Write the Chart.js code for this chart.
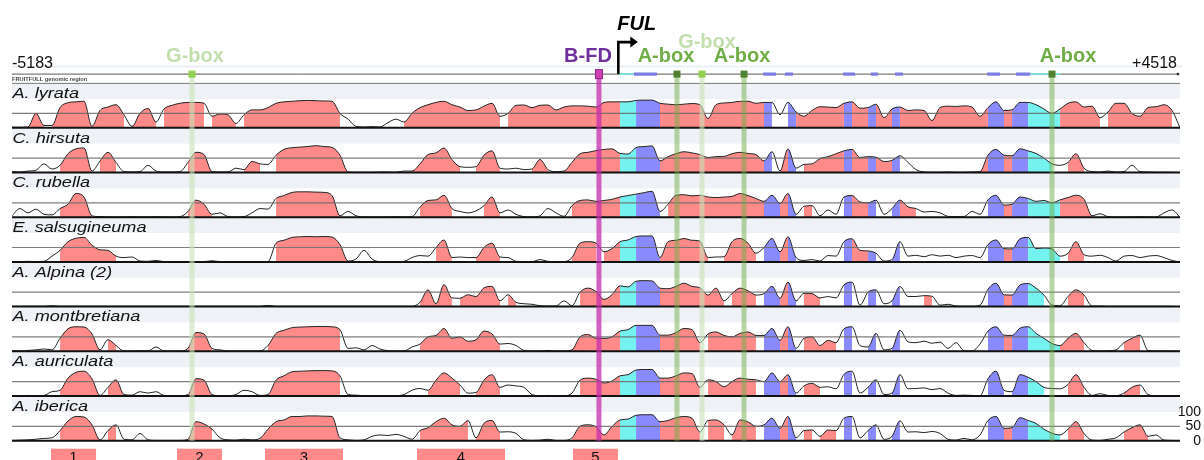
<!DOCTYPE html>
<html>
<head>
<meta charset="utf-8">
<title>FRUITFULL genomic region – conservation</title>
<script src="https://cdn.jsdelivr.net/npm/chart.js@4.4.1/dist/chart.umd.min.js"></script>
<style>
html, body { margin: 0; padding: 0; background: #ffffff; }
#wrap { width: 1204px; height: 460px; }
canvas { display: block; }
</style>
</head>
<body>
<div id="wrap"><canvas id="chart" width="1204" height="460"></canvas></div>
<script>
// ---------------- DATA ----------------
const REGION_START = -5183;
const REGION_END = 4518;
const REGION_TITLE = 'FRUITFULL genomic region';
const GENE_NAME = 'FUL';
const TSS = -147;

const SPECIES = ['A. lyrata', 'C. hirsuta', 'C. rubella', 'E. salsugineuma',
                 'A. Alpina (2)', 'A. montbretiana', 'A. auriculata', 'A. iberica'];

// % identity, sampled uniformly along the region (147 samples)
const LYRATA = [2,2,3,50,8,8,70,87,90,92, 5,60,72,80,45,5,50,67,20,65, 78,85,88,88,85,40,48,45,15,45,
  62,62,70,85,90,92,94,95,94,93, 92,50,30,5,3,4,3,18,30,20, 50,70,80,88,92,80,72,60,62,75,
  85,40,50,78,79,70,78,79,62,72, 76,76,75,72,88,90,90,90,95,96, 96,85,82,80,82,84,80,32,80,86,
  88,92,92,85,88,88,45,88,55,40, 60,73,72,70,85,90,68,70,82,35, 65,72,60,62,60,25,70,75,74,76,
  72,40,70,90,60,62,88,88,80,65, 50,65,85,90,72,75,35,55,85,85, 50,40,70,73,80,60,0];
const HIRSUTA = [3,2,5,8,30,12,25,65,82,85, 5,40,70,35,3,2,3,25,5,2, 2,3,35,70,62,3,2,2,15,10,
  38,30,28,60,80,86,88,90,93,90, 87,60,2,1,1,1,2,2,1,5, 5,30,62,68,85,45,20,18,20,60,
  75,15,12,15,10,12,45,10,3,5, 35,65,70,76,80,82,66,64,86,90, 92,40,55,65,72,68,62,52,55,56,
  65,70,66,62,40,72,5,82,15,28, 30,48,55,65,75,80,52,55,53,38, 42,58,35,10,2,1,1,2,1,1,
  2,3,60,80,60,58,82,75,66,50, 30,25,35,65,15,3,2,5,2,3, 25,3,2,1,1,1,0];
const RUBELLA = [5,30,15,28,10,8,30,45,82,70, 5,2,1,1,1,2,1,1,2,1, 1,2,20,59,45,10,15,2,1,2,
  15,30,28,65,75,86,88,88,87,86, 75,5,20,5,1,1,1,1,2,1, 2,35,58,60,76,30,20,15,22,40,
  70,15,25,10,2,1,5,30,15,3, 40,58,60,55,58,62,70,75,80,85, 90,20,45,76,78,74,76,70,68,70,
  72,82,75,65,55,76,48,82,10,38, 40,5,25,10,70,75,53,50,59,10, 30,59,36,30,18,20,15,3,2,2,
  20,10,60,76,42,45,70,65,55,58, 50,60,68,76,62,5,12,2,1,1, 1,2,1,1,15,25,0];
const SALSUGINEUM = [1,1,2,1,2,20,40,70,82,85, 58,42,40,20,15,17,3,2,5,1, 1,1,1,1,1,4,1,1,1,1,
  1,1,1,65,75,85,87,88,87,88, 86,60,3,10,40,10,1,1,1,2, 15,22,20,50,76,15,17,15,15,50,
  65,17,15,2,1,1,8,2,1,1, 15,65,70,65,35,46,70,76,88,90, 90,15,70,75,81,75,72,15,17,18,
  70,81,65,30,50,81,35,87,15,5, 8,3,22,20,70,80,40,38,30,3, 8,70,20,23,18,25,20,23,15,20,
  22,15,60,76,46,45,80,85,46,48, 45,20,30,70,25,20,23,15,3,20, 22,15,20,22,15,5,0];
const ALPINA = [1,1,1,1,1,3,1,1,1,1, 1,1,1,1,1,1,1,1,1,1, 1,1,1,1,1,1,1,1,1,1,
  1,1,4,1,1,1,1,1,1,1, 1,1,1,1,1,1,1,1,1,1, 1,15,58,10,76,30,29,41,35,65,
  70,20,41,15,10,8,3,2,2,20, 3,50,64,52,25,41,72,68,88,90, 89,64,62,70,81,70,65,40,64,20,
  45,64,55,40,45,70,29,85,20,46, 45,30,35,30,75,85,5,50,58,10, 20,70,35,35,38,36,5,8,2,1,
  1,5,60,81,41,40,75,80,64,40, 5,3,35,58,40,2,2,1,1,1, 1,1,1,1,1,1,0];
const MONTBRETIANA = [2,1,3,5,8,5,45,78,85,84, 60,5,40,20,1,1,2,1,15,1, 1,1,10,65,60,10,5,1,1,1,
  1,1,20,62,73,82,84,85,86,86, 85,75,10,12,5,20,8,2,1,1, 15,25,50,55,79,45,50,35,40,70,
  60,25,27,20,3,1,1,3,1,1, 5,50,58,45,45,50,70,75,90,90, 90,56,56,65,79,75,30,60,67,55,
  50,62,67,55,55,79,38,85,10,45, 50,20,38,30,78,85,20,15,62,5, 10,73,33,30,35,28,32,10,30,2,
  1,25,70,85,56,55,80,85,62,45, 27,20,45,62,30,3,1,2,5,30, 45,56,3,1,1,1,0];
const AURICULATA = [1,1,2,1,2,15,20,62,82,86, 60,2,30,56,5,3,15,10,15,2, 1,1,5,60,55,5,1,1,5,20,
  15,2,5,55,70,84,86,87,88,88, 87,70,5,3,1,1,1,1,1,5, 20,26,20,55,80,62,38,10,12,55,
  74,30,38,35,30,5,1,2,1,1, 10,55,62,58,45,52,70,74,90,92, 92,62,62,70,80,78,30,56,50,32,
  50,62,58,56,50,80,50,74,10,35, 44,30,32,25,75,86,10,30,56,5, 10,74,25,26,28,22,26,10,2,3,
  2,1,60,86,20,15,74,65,50,30, 26,25,40,74,30,2,8,2,1,10, 30,38,5,1,1,1,0];
const IBERICA = [1,2,3,5,8,10,35,68,84,82, 55,3,35,55,5,3,25,3,1,1, 1,1,5,66,58,40,10,3,2,5,
  3,8,40,66,72,84,84,86,86,85, 84,10,3,1,3,15,20,18,22,15, 5,35,45,66,78,55,50,70,10,60,
  70,30,31,25,3,1,2,5,1,1, 10,50,55,48,20,49,72,75,88,90, 90,66,70,80,84,78,30,70,72,55,
  20,72,65,50,55,78,43,84,10,35, 37,15,37,35,78,84,10,35,55,5, 15,69,30,31,28,32,25,5,2,8,
  3,20,70,84,43,45,80,70,60,40, 26,20,40,66,25,2,1,5,10,30, 45,55,15,20,2,1,0];

// conserved (filled) intervals per species, bp
const CNS_LYRATA = [[-5025,-4934],[-4826,-4535],[-4494,-4236],[-4186,-3979],[-3937,-3572],[-3538,-3314],[-3281,-2426],[-1919,-1122],[-1088,1154],[1237,3878],[3912,4468]];
const CNS_HIRSUTA = [[-4809,-4527],[-4477,-4294],[-3746,-3555],[-3231,-3140],[-3015,-2409],[-1852,-1487],[-1296,-1155],[-839,-715],[-582,1154],[1212,1312],[1370,2209],[2882,3438],[3579,3704]];
const CNS_RUBELLA = [[-4809,-4519],[-3730,-3538],[-3015,-2459],[-1794,-1504],[-1263,-1155],[-540,183],[266,1312],[1370,1470],[1719,2018],[2151,2325],[2915,3787]];
const CNS_SALSUGINEUM = [[-4793,-4328],[-3015,-2409],[-1678,-1537],[-1296,-1155],[-507,-324],[-274,183],[216,581],[756,996],[1055,1312],[1719,2010],[2151,2217],[2915,3513],[3596,3721]];
const CNS_ALPINA = [[-1794,-1678],[-1645,-1537],[-1470,-1329],[-1296,-1155],[-1088,-1014],[-490,739],[789,1021],[1055,1312],[1370,1528],[1719,1819],[1943,2010],[2151,2217],[2359,2467],[2915,3372],[3579,3737]];
const CNS_MONTBRETIANA = [[-4809,-4477],[-4411,-4311],[-3713,-3522],[-3032,-2426],[-1778,-1155],[-507,515],[581,1021],[1055,1312],[1370,1520],[1545,1644],[1719,1819],[1943,2010],[2151,2217],[2915,3496],[3546,3721],[4053,4202]];
const CNS_AURICULATA = [[-4776,-4460],[-4377,-4269],[-3696,-3522],[-3040,-2426],[-1711,-1454],[-1296,-1155],[-490,515],[581,1021],[1055,1312],[1370,1503],[1719,1819],[1943,2010],[2151,2217],[2915,3023],[3156,3388],[3579,3721],[4070,4202]];
const CNS_IBERICA = [[-4809,-4477],[-4411,-4311],[-3696,-3505],[-3090,-2459],[-1803,-1379],[-1296,-1155],[-507,515],[581,739],[789,1021],[1055,1312],[1370,1470],[1545,1644],[1719,1819],[1943,2010],[2151,2217],[2915,3496],[3579,3721],[4070,4227]];

// gene annotation, bp
const EXONS = [[-17,174],[1055,1163],[1237,1304],[1719,1819],[1950,2010],[2151,2217],[2915,3023],[3156,3273]];
const UTRS = [[-141,-17],[3273,3521]];

// cis-elements
const MOTIF_NAMES = ['G-box', 'B-FD', 'A-box', 'G-box', 'A-box', 'A-box'];
const MOTIF_POS = [-3688, -308, 340, 548, 897, 3455];

// numbered conserved regions below the plot
const REGION_LABELS = ['1', '2', '3', '4', '5'];
const REGION_STARTS = [-4859, -3813, -3082, -1819, -524];
const REGION_ENDS = [-4485, -3439, -2434, -1088, -150];

const Y_TICKS = [100, 50, 0];

// ---------------- BUILD ----------------
const TRACK_VALUES = [LYRATA, HIRSUTA, RUBELLA, SALSUGINEUM, ALPINA, MONTBRETIANA, AURICULATA, IBERICA];
const TRACK_CNS = [CNS_LYRATA, CNS_HIRSUTA, CNS_RUBELLA, CNS_SALSUGINEUM, CNS_ALPINA, CNS_MONTBRETIANA, CNS_AURICULATA, CNS_IBERICA];
const N = LYRATA.length;
const POSITIONS = LYRATA.map((_, i) => Math.round(REGION_START + i * (REGION_END - REGION_START) / (N - 1)));

const COLOR_CNS = '#ff8a8a';
const COLOR_UTR = '#74f2f0';
const COLOR_EXON = '#8a8aff';
const TRACK_MAX = 155;   // headroom above 100 holds the label band
const BAND_TOP = 153;

const inAny = (list, x) => list.some(([a, b]) => x >= a && x <= b);
function segmentFill(k, x) {
  if (!inAny(TRACK_CNS[k], x)) return undefined;
  if (inAny(EXONS, x)) return COLOR_EXON;
  if (inAny(UTRS, x)) return COLOR_UTR;
  return COLOR_CNS;
}

const MOTIF_STYLE = {
  'G-box': { text: '#c3dfae', line: 'rgba(200,226,184,0.62)', marker: '#92d050' },
  'A-box': { text: '#70ad47', line: 'rgba(112,173,71,0.5)', marker: '#4f8130' },
  'B-FD':  { text: '#7030a0', line: 'rgba(196,44,172,0.75)', marker: '#d040b0' }
};
const LABEL_DX = [3, -11, -11, 5, -2, 16];
const LABEL_ROW = [0, 0, 0, 1, 0, 0];

const FONT = '"Liberation Sans", Arial, Helvetica, sans-serif';

const scalesCfg = {
  x: { type: 'linear', min: REGION_START, max: REGION_END, display: false }
};
SPECIES.forEach((_, k) => {
  scalesCfg['y' + k] = {
    type: 'linear', position: 'right', stack: 'tracks', stackWeight: 1,
    min: 0, max: TRACK_MAX, display: false
  };
});

const datasets = TRACK_VALUES.map((vals, k) => ({
  label: SPECIES[k],
  data: vals.map((v, i) => ({ x: POSITIONS[i], y: v })),
  xAxisID: 'x',
  yAxisID: 'y' + k,
  borderColor: '#262626',
  borderWidth: 1,
  pointRadius: 0,
  cubicInterpolationMode: 'monotone',
  fill: 'origin',
  backgroundColor: 'rgba(0,0,0,0)',
  segment: {
    backgroundColor: c => segmentFill(k, (c.p0.parsed.x + c.p1.parsed.x) / 2)
  }
}));

function hline(ctx, x1, x2, y) { ctx.beginPath(); ctx.moveTo(x1, y); ctx.lineTo(x2, y); ctx.stroke(); }

const vistaPlugin = {
  id: 'vista',
  beforeDatasetsDraw(chart) {
    const { ctx, chartArea: ca, scales } = chart;
    ctx.save();
    SPECIES.forEach((name, k) => {
      const ys = scales['y' + k];
      const top = ys.getPixelForValue(BAND_TOP);
      const bot = ys.getPixelForValue(100);
      ctx.fillStyle = '#eef1f5';
      ctx.fillRect(ca.left, top, ca.right - ca.left, bot - top);
      ctx.save();
      ctx.translate(ca.left + 0.5, ys.getPixelForValue(104));
      ctx.scale(1.25, 1);
      ctx.fillStyle = '#111';
      ctx.font = 'italic 14.5px ' + FONT;
      ctx.textBaseline = 'alphabetic';
      ctx.textAlign = 'left';
      ctx.fillText(name, 0, 0);
      ctx.restore();
    });
    ctx.restore();
  },
  afterDatasetsDraw(chart) {
    const { ctx, chartArea: ca, scales } = chart;
    const xs = scales.x;
    const X = v => xs.getPixelForValue(v);
    const last = scales['y' + (SPECIES.length - 1)];
    ctx.save();

    // 50% and baseline lines
    SPECIES.forEach((_, k) => {
      const ys = scales['y' + k];
      ctx.strokeStyle = 'rgba(105,105,105,0.85)';
      ctx.lineWidth = 1.2;
      hline(ctx, ca.left, ca.right, ys.getPixelForValue(50));
      ctx.strokeStyle = '#111';
      ctx.lineWidth = 2;
      hline(ctx, ca.left, ca.right, ys.getPixelForValue(0));
    });

    // header
    const geneY = ca.top - 9;
    ctx.strokeStyle = '#e3ebf4'; ctx.lineWidth = 1.5;
    hline(ctx, ca.left, ca.right + 2, ca.top - 16.5);
    ctx.strokeStyle = '#5a5a5a'; ctx.lineWidth = 1;
    hline(ctx, ca.left, ca.right - 2, geneY);
    ctx.strokeStyle = '#777'; ctx.lineWidth = 1;
    hline(ctx, ca.left, ca.right, ca.top + 0.3);
    ctx.fillStyle = '#333';
    ctx.beginPath(); ctx.arc(ca.right - 2, geneY, 1.3, 0, Math.PI * 2); ctx.fill();

    ctx.fillStyle = '#444';
    ctx.font = 'bold 5.7px ' + FONT;
    ctx.textAlign = 'left'; ctx.textBaseline = 'alphabetic';
    ctx.fillText(REGION_TITLE, ca.left, ca.top - 2);

    ctx.fillStyle = '#111';
    ctx.font = '16px ' + FONT;
    ctx.fillText(String(REGION_START), ca.left, ca.top - 15);
    ctx.textAlign = 'right';
    ctx.fillText('+' + REGION_END, ca.right - 3, ca.top - 15);

    // gene structure on the header line
    ctx.fillStyle = '#6fe6e6';
    UTRS.forEach(([a, b]) => ctx.fillRect(X(a), geneY - 0.8, X(b) - X(a), 1.6));
    ctx.fillStyle = '#7b7be4';
    EXONS.forEach(([a, b]) => ctx.fillRect(X(a), geneY - 1.6, X(b) - X(a), 3.2));

    // FUL arrow
    const tx = X(TSS);
    ctx.strokeStyle = '#000'; ctx.lineWidth = 2.6;
    ctx.beginPath(); ctx.moveTo(tx, geneY); ctx.lineTo(tx, geneY - 32); ctx.lineTo(tx + 13, geneY - 32); ctx.stroke();
    ctx.fillStyle = '#000';
    ctx.beginPath(); ctx.moveTo(tx + 12, geneY - 37.5); ctx.lineTo(tx + 19.5, geneY - 32); ctx.lineTo(tx + 12, geneY - 26.5); ctx.closePath(); ctx.fill();
    ctx.font = 'italic bold 20px ' + FONT;
    ctx.textAlign = 'left';
    ctx.fillText(GENE_NAME, tx - 1, geneY - 44);

    // motif lines, markers and labels
    const yBottom = last.getPixelForValue(0);
    MOTIF_NAMES.forEach((name, i) => {
      const st = MOTIF_STYLE[name];
      const mx = X(MOTIF_POS[i]);
      ctx.strokeStyle = st.line; ctx.lineWidth = 5;
      ctx.beginPath(); ctx.moveTo(mx, geneY + 3); ctx.lineTo(mx, yBottom); ctx.stroke();
    });
    MOTIF_NAMES.forEach((name, i) => {
      const st = MOTIF_STYLE[name];
      const mx = X(MOTIF_POS[i]);
      if (name === 'B-FD') {
        ctx.fillStyle = st.marker; ctx.fillRect(mx - 3.5, geneY - 4.5, 7, 9);
        ctx.strokeStyle = '#8a2a8a'; ctx.lineWidth = 1; ctx.strokeRect(mx - 3.5, geneY - 4.5, 7, 9);
      } else {
        ctx.fillStyle = st.marker; ctx.fillRect(mx - 3.5, geneY - 3.5, 7, 7);
      }
      ctx.fillStyle = st.text;
      ctx.font = 'bold 20px ' + FONT;
      ctx.textAlign = 'center'; ctx.textBaseline = 'alphabetic';
      ctx.fillText(name, mx + LABEL_DX[i], LABEL_ROW[i] === 0 ? geneY - 12 : geneY - 26);
    });

    // numbered regions
    const boxTop = yBottom + 8;
    REGION_LABELS.forEach((lab, i) => {
      const a = X(REGION_STARTS[i]), b = X(REGION_ENDS[i]);
      ctx.fillStyle = COLOR_CNS;
      ctx.fillRect(a, boxTop, b - a, 16);
      ctx.fillStyle = '#111';
      ctx.font = '15px ' + FONT;
      ctx.textAlign = 'center'; ctx.textBaseline = 'top';
      ctx.fillText(lab, (a + b) / 2, boxTop + 2);
    });

    // y tick labels for the last track
    ctx.fillStyle = '#111';
    ctx.font = '14px ' + FONT;
    ctx.textAlign = 'right'; ctx.textBaseline = 'middle';
    Y_TICKS.forEach(t => ctx.fillText(String(t), chart.width - 3, last.getPixelForValue(t)));

    ctx.restore();
  }
};

new Chart(document.getElementById('chart'), {
  type: 'line',
  data: { datasets },
  options: {
    responsive: false,
    maintainAspectRatio: false,
    animation: false,
    devicePixelRatio: 1,
    layout: { padding: { left: 12, right: 24, top: 83.1, bottom: 19.3 } },
    plugins: { legend: { display: false }, tooltip: { enabled: false }, title: { display: false } },
    scales: scalesCfg,
    elements: { line: { borderJoinStyle: 'round' } }
  },
  plugins: [vistaPlugin]
});
</script>
</body>
</html>
